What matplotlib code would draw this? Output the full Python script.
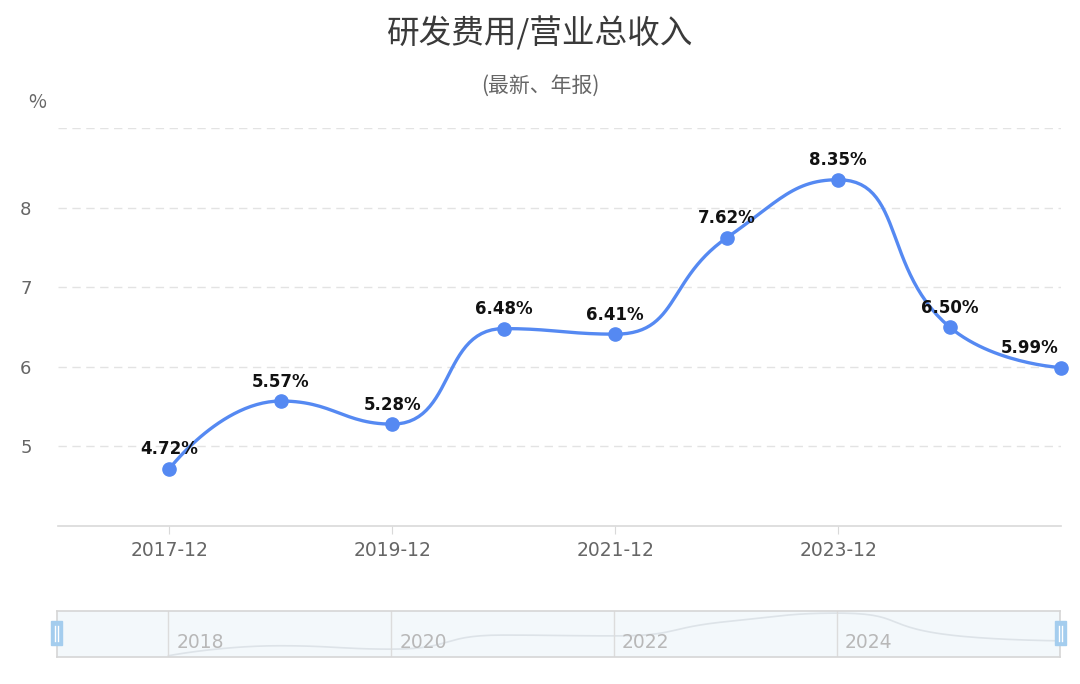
import matplotlib
matplotlib.use("Agg")
import matplotlib.pyplot as plt
from matplotlib.patches import Rectangle
import numpy as np

plt.rcParams['font.family'] = ['Noto Sans CJK SC', 'DejaVu Sans']

# data
categories = ['2016-12', '2017-12', '2018-12', '2019-12', '2020-12',
              '2021-12', '2022-12', '2023-12', '2024-12', '2025-06']
values = [None, 4.72, 5.57, 5.28, 6.48, 6.41, 7.62, 8.35, 6.50, 5.99]
x_labels_shown = ['2017-12', '2019-12', '2021-12', '2023-12']
zoom_labels = ['2018', '2020', '2022', '2024']
y_ticks = [5, 6, 7, 8]

LINE = '#5589f2'
NUM_FONT = ['DejaVu Sans']


def clamp(v, a, b):
    return min(max(v, min(a, b)), max(a, b))


def smooth_curve(xs, ys, sx=111.4, sy=79.3, smooth=0.5, n=30):
    # bezier smoothing in the echarts style (no overshoot at extremes)
    px = [x * sx for x in xs]
    py = [y * sy for y in ys]
    m = len(px)
    t = np.linspace(0, 1, n)
    outx, outy = [px[0]], [py[0]]
    cp0 = (px[0], py[0])
    for i in range(1, m):
        x, y = px[i], py[i]
        prx, pry = px[i - 1], py[i - 1]
        if i == m - 1:
            cp1 = (x, y)
            ncp0 = None
        else:
            nx, ny = px[i + 1], py[i + 1]
            vx, vy = nx - prx, ny - pry
            lp = np.hypot(x - prx, y - pry)
            ln = np.hypot(nx - x, ny - y)
            r = ln / (ln + lp)
            ncx = clamp(x + vx * smooth * r, nx, x)
            ncy = clamp(y + vy * smooth * r, ny, y)
            vx, vy = ncx - x, ncy - y
            c1x = clamp(x - vx * lp / ln, prx, x)
            c1y = clamp(y - vy * lp / ln, pry, y)
            vx, vy = x - c1x, y - c1y
            ncp0 = (x + vx * ln / lp, y + vy * ln / lp)
            cp1 = (c1x, c1y)
        a = np.array([prx, pry])
        b = np.array(cp0)
        c = np.array(cp1)
        d = np.array([x, y])
        pts = ((1 - t) ** 3)[:, None] * a + (3 * (1 - t) ** 2 * t)[:, None] * b \
            + (3 * (1 - t) * t ** 2)[:, None] * c + (t ** 3)[:, None] * d
        outx.extend(pts[1:, 0])
        outy.extend(pts[1:, 1])
        cp0 = ncp0
    return np.array(outx) / sx, np.array(outy) / sy


idx = [i for i, v in enumerate(values) if v is not None]
vals = [values[i] for i in idx]

fig = plt.figure(figsize=(10.8, 6.84), dpi=100)
ax = fig.add_axes([58 / 1080, 1 - 526 / 684, (1061 - 58) / 1080, (526 - 128) / 684])
ax.set_xlim(0, len(categories) - 1)
ax.set_ylim(4, 9)

for y in y_ticks + [9]:
    ax.axhline(y, color='#e3e3e3', lw=1, dashes=(6, 4), zorder=0)

sx, sy = smooth_curve(idx, vals)
ax.plot(sx, sy, color=LINE, lw=2.4, zorder=2, solid_capstyle='round')
ax.plot(idx, vals, 'o', color=LINE, ms=9.5, zorder=3, clip_on=False)
for k, (i, v) in enumerate(zip(idx, vals)):
    last = k == len(idx) - 1
    ax.annotate(f'{v:.2f}%', (i, v), xytext=(-2 if last else 0, 7.5),
                textcoords='offset points',
                ha='right' if last else 'center', va='bottom', fontsize=12,
                fontweight='bold', color='#111111', family=NUM_FONT)

for s in ['top', 'right', 'left']:
    ax.spines[s].set_visible(False)
ax.spines['bottom'].set_color('#d9d9d9')
ax.spines['bottom'].set_linewidth(1.2)

ax.set_yticks(y_ticks)
ax.set_yticklabels([str(y) for y in y_ticks], family=NUM_FONT)
ax.tick_params(axis='y', length=0, pad=19, labelsize=13, labelcolor='#666666')
ax.set_xticks([categories.index(c) for c in x_labels_shown])
ax.set_xticklabels(x_labels_shown, family=NUM_FONT)
ax.tick_params(axis='x', length=6, color='#d9d9d9', pad=5, labelsize=13.5,
               labelcolor='#666666')

fig.text(37 / 1080, 1 - 103 / 684, '%', ha='center', va='center',
         fontsize=14, color='#666666')
fig.text(0.5, 1 - 33 / 684, '研发费用/营业总收入', ha='center', va='center',
         fontsize=23.5, color='#3a3a3a')
fig.text(0.5, 1 - 86 / 684, '(最新、年报)', ha='center', va='center',
         fontsize=15, color='#666666')

# data zoom slider
zx = fig.add_axes([57 / 1080, 1 - 657 / 684, (1060 - 57) / 1080, (657 - 611) / 684])
zx.set_xlim(0, len(categories) - 1)
vmin, vmax = min(vals), max(vals)
zx.set_ylim(vmin - 0.03 * (vmax - vmin), vmax + (vmax - vmin) * 0.05)
zx.set_facecolor('#f3f8fb')
zx.plot(sx, sy, color='#dde3e8', lw=1.2)
for lab, c in zip(zoom_labels, x_labels_shown):
    xi = categories.index(c)
    zx.axvline(xi, color='#dcdcdc', lw=1)
    zx.text(xi + 0.07, 0.1, lab, transform=zx.get_xaxis_transform(),
            ha='left', va='bottom', fontsize=13.5, color='#b8b8b8',
            family=NUM_FONT)
zx.set_xticks([])
zx.set_yticks([])
for s in zx.spines.values():
    s.set_color('#d6d6d6')
    s.set_linewidth(1.2)

for hx in (51, 1055):
    fig.patches.append(Rectangle((hx / 1080, 1 - 645 / 684), 11 / 1080, 24 / 684,
                                 transform=fig.transFigure, color='#a4cdee',
                                 zorder=5))
    for dx in (4, 7):
        fig.lines.append(plt.Line2D([(hx + dx) / 1080] * 2,
                                    [1 - 641 / 684, 1 - 626 / 684],
                                    transform=fig.transFigure, color='white',
                                    lw=1, zorder=6))

fig.savefig('out.png', dpi=100, facecolor='white')
